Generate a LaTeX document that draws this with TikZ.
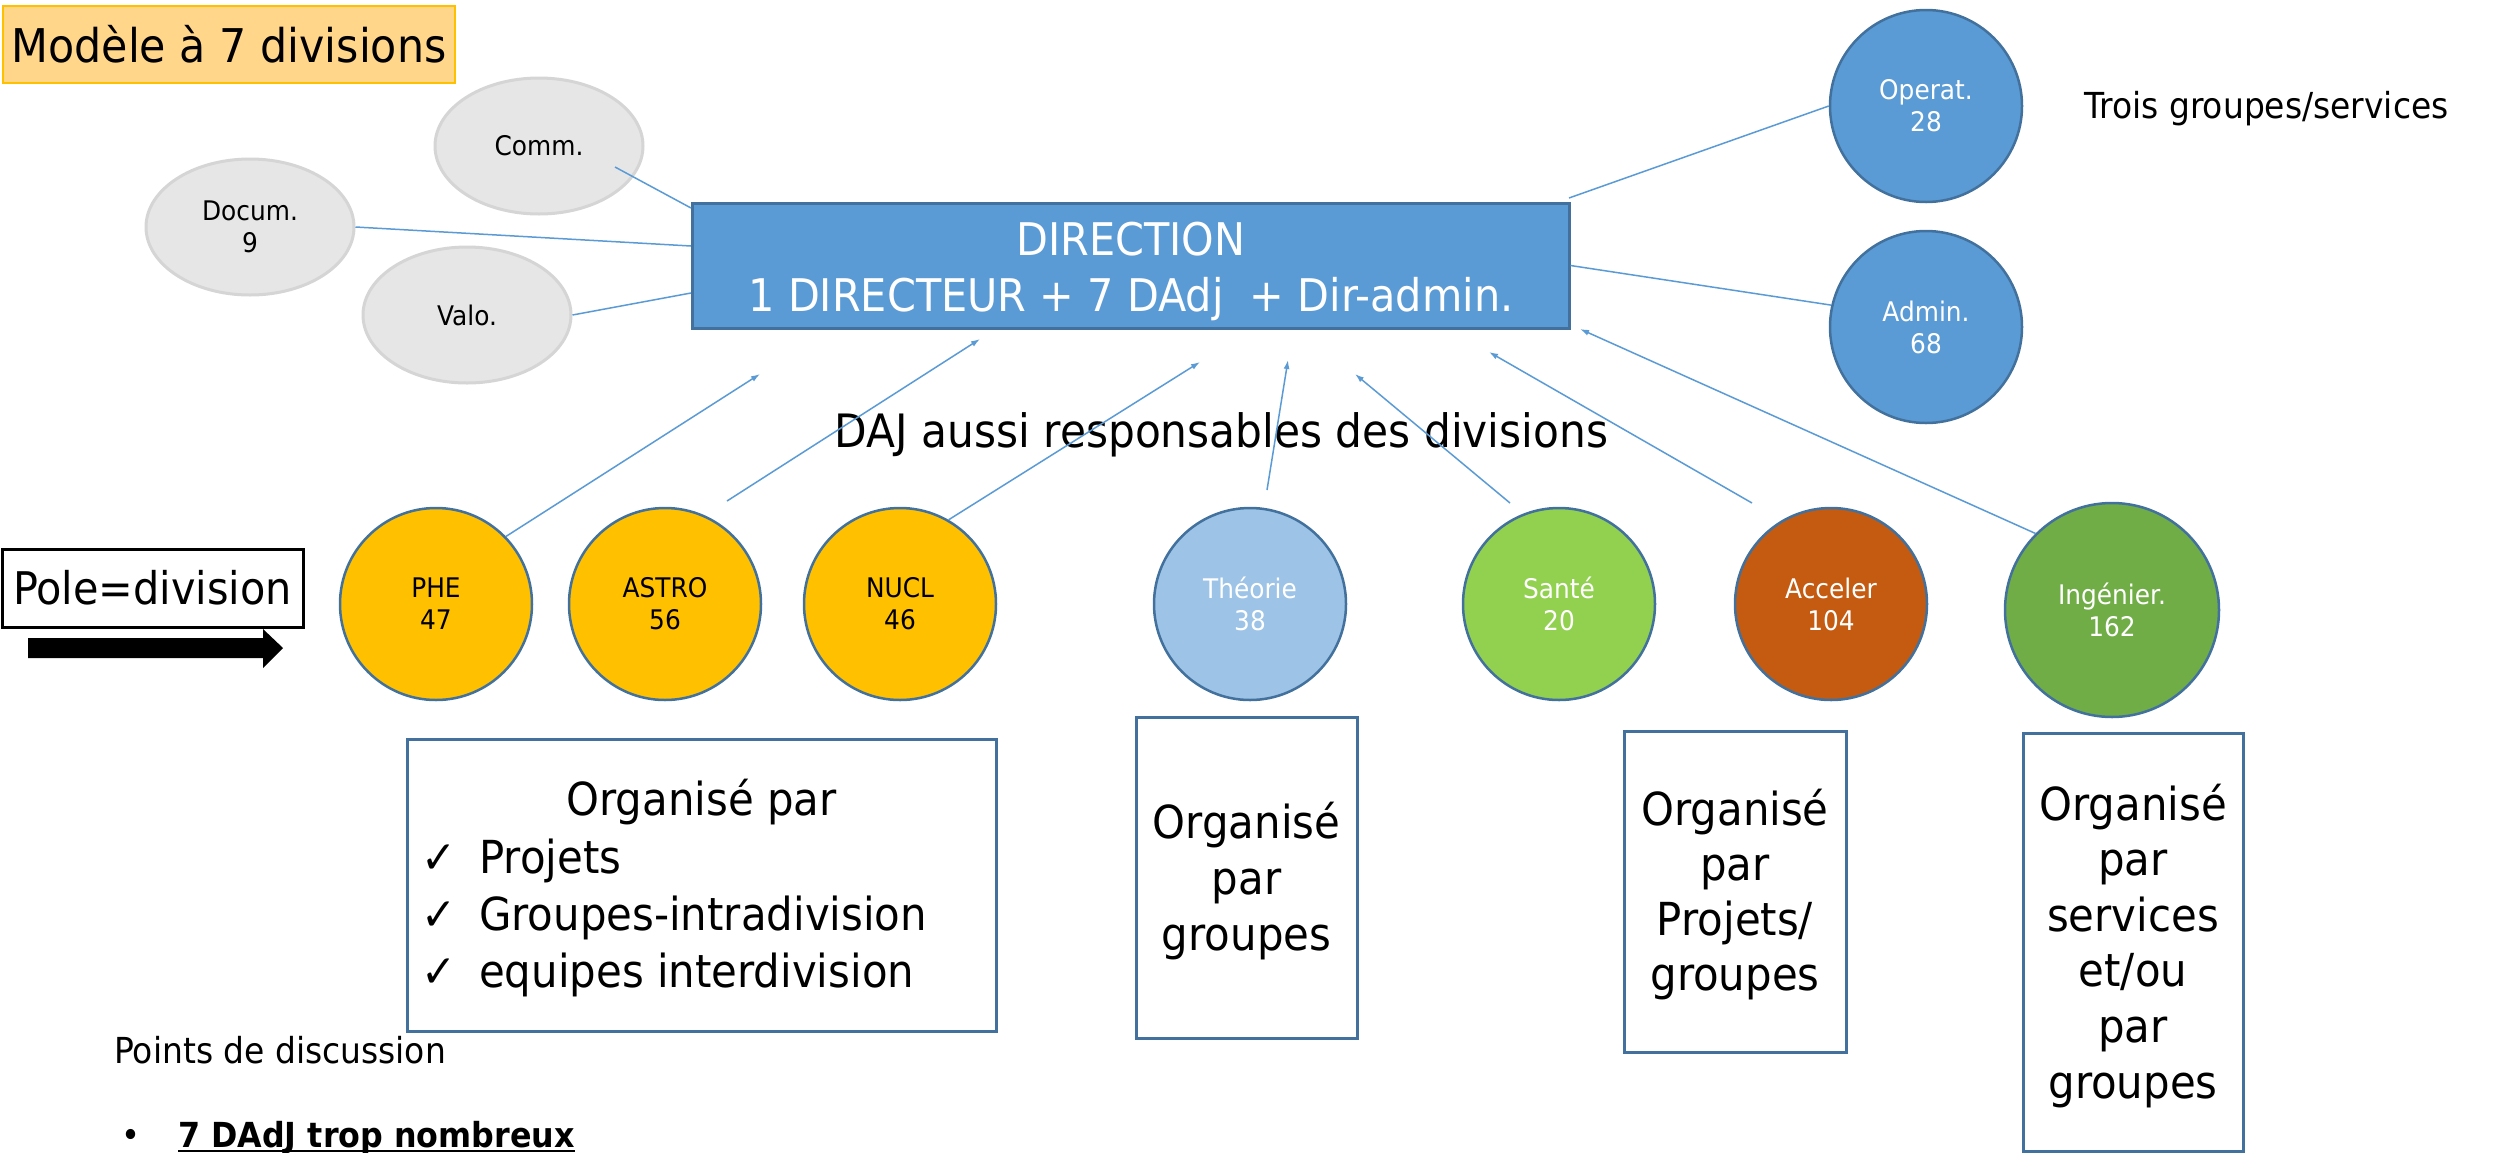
\documentclass[tikz,border=0pt]{standalone}
\usepackage{fontspec}
\setmainfont{DejaVu Sans}[FakeStretch=0.92]
\usetikzlibrary{shapes.geometric,arrows.meta}
\newcommand\myfs[2]{\fontsize{#1}{#2}\selectfont}
\definecolor{dirblue}{HTML}{5B9BD5}
\definecolor{edgeblue}{HTML}{41719C}
\definecolor{grayfill}{HTML}{E7E6E6}
\definecolor{grayedge}{HTML}{D6D5D5}
\definecolor{gold}{HTML}{FFC000}
\definecolor{titlefill}{HTML}{FFD68A}
\definecolor{theo}{HTML}{9DC3E6}
\definecolor{sante}{HTML}{92D050}
\definecolor{accel}{HTML}{C55A11}
\definecolor{ingen}{HTML}{70AD47}
\begin{document}
\begin{tikzpicture}[x=1pt,y=-1pt,
  conn/.style={dirblue, line width=1.5pt},
  arr/.style={conn, -{Latex[length=9pt,width=6pt]}},
  grayell/.style={ellipse, draw=grayedge, fill=grayfill, line width=3pt, minimum width=208pt, minimum height=136pt, inner sep=0pt, align=center, font=\myfs{27}{32}},
  div/.style={circle, draw=edgeblue, line width=2.5pt, minimum size=192pt, inner sep=0pt, align=center, font=\myfs{27}{32}},
  orgbox/.style={draw=edgeblue, line width=3pt, fill=white, inner sep=0pt},
  orgline/.style={inner sep=0pt, anchor=base, font=\myfs{45.5}{56}},
  plain/.style={inner sep=0pt},
]
\fill[white] (0,0) rectangle (2509,1152);
\useasboundingbox (0,0) rectangle (2509,1152);

% title
\node[draw=gold, fill=titlefill, line width=2pt, minimum width=452pt, minimum height=77pt, inner sep=0pt, font=\myfs{46.5}{54}] (title) at (229,44.5) {Modèle à 7 divisions};

% gray ellipses
\node[grayell] (comm) at (539,146) {Comm.};
\node[grayell] (docum) at (250,227) {Docum.\\9};
\node[grayell] (valo) at (467,315) {Valo.};

% direction
\node[draw=edgeblue, fill=dirblue, line width=3pt, minimum width=877pt, minimum height=125pt, inner sep=0pt] (dir) at (1130.5,265.5) {};
\node[plain, anchor=base, text=white, font=\myfs{45}{54}] (dirl1) at (1131,255) {DIRECTION};
\node[plain, anchor=base, text=white, font=\myfs{45}{54}] (dirl2) at (1131,311) {1 DIRECTEUR + 7 DAdj \ + Dir-admin.};

% right services
\node[div, fill=dirblue, text=white] (operat) at (1926,106) {Operat.\\28};
\node[div, fill=dirblue, text=white] (admin) at (1926,327) {Admin.\\68};
\node[plain, anchor=base west, font=\myfs{35.8}{42}] (trois) at (2084,118) {Trois groupes/services};

\node[plain, anchor=base, font=\myfs{46}{54}] (daj) at (1221.5,447) {DAJ aussi responsables des divisions};

% pole
\node[draw=black, line width=3pt, fill=white, minimum width=301pt, minimum height=78pt, inner sep=0pt, font=\myfs{45}{54}] (pole) at (152.5,588) {Pole=division};
\fill[black] (28,638) -- (263,638) -- (263,629) -- (283,648) -- (263,668) -- (263,658) -- (28,658) -- cycle;

% divisions
\node[div, fill=gold] (phe) at (436,604) {PHE\\47};
\node[div, fill=gold] (astro) at (665,604) {ASTRO\\56};
\node[div, fill=gold] (nucl) at (900,604) {NUCL\\46};
\node[div, fill=theo, text=white] (theo) at (1250,604) {Théorie\\38};
\node[div, fill=sante, text=white] (sante) at (1559,604) {Santé\\20};
\node[div, fill=accel, text=white] (accel) at (1831,604) {Acceler\\104};
\node[div, fill=ingen, text=white, minimum size=214pt] (ingen) at (2112,610) {Ingénier.\\162};

% organisation boxes
\node[orgbox, minimum width=589pt, minimum height=292pt] (b1) at (701.5,885) {};
\node[orgline] (b1t) at (701.5,815) {Organisé par};
\node[orgline, anchor=base west] (b1a) at (421,873) {\makebox[58pt][l]{✓}Projets};
\node[orgline, anchor=base west] (b1b) at (421,930) {\makebox[58pt][l]{✓}Groupes-intradivision};
\node[orgline, anchor=base west] (b1c) at (421,987) {\makebox[58pt][l]{✓}equipes interdivision};

\node[orgbox, minimum width=221pt, minimum height=321pt] (b2) at (1246.5,877.5) {};
\foreach \t [count=\i] in {Organisé,par,groupes}
  \node[orgline] (b2l\i) at (1246.5,{838+56*(\i-1)}) {\t};

\node[orgbox, minimum width=222pt, minimum height=321pt] (b3) at (1735,891.5) {};
\foreach \t [count=\i] in {Organisé,par,Projets/,groupes}
  \node[orgline] (b3l\i) at (1735,{825+55*(\i-1)}) {\t};

\node[orgbox, minimum width=220pt, minimum height=418pt] (b4) at (2133,942) {};
\foreach \t [count=\i] in {Organisé,par,services,et/ou,par,groupes}
  \node[orgline] (b4l\i) at (2133,{820+55.6*(\i-1)}) {\t};

% discussion
\node[plain, anchor=base west, font=\myfs{35.8}{42}] (points) at (114,1063) {Points de discussion};
\node[plain, anchor=base west, font=\myfs{35}{42}] (bullet) at (121,1147) {•};
\node[plain, anchor=base west, font=\myfs{34.5}{42}\bfseries] (dadj) at (178,1147) {7 DAdJ trop nombreux};
\draw[line width=2pt] ([yshift=-4pt]dadj.base west) -- ([yshift=-4pt]dadj.base east);

% connectors
\coordinate (commS) at (615,167);
\coordinate (dirW1) at (691,208);
\coordinate (dirW2) at (691,246);
\coordinate (dirW3) at (691,293);
\coordinate (dirNE) at (1569,198);
\draw[conn] (commS) -- (dirW1);
\draw[conn] (docum.east) -- (dirW2);
\draw[conn] (valo.east) -- (dirW3);
\draw[conn] (dirNE) -- (operat.west);
\draw[conn] (dir.east) -- (admin.167);

\coordinate (tip1) at (760,374);
\coordinate (tip2) at (980,339);
\coordinate (tip3) at (1200,362);
\coordinate (tip4) at (1288,360);
\coordinate (tip5) at (1355,374);
\coordinate (tip6) at (1489,352);
\coordinate (tip7) at (1580,329);
\coordinate (astroS) at (727,501);
\coordinate (theoS) at (1267,490);
\coordinate (santeS) at (1510,503);
\coordinate (accelS) at (1752,503);
\draw[arr] (phe.44) -- (tip1);
\draw[arr] (astroS) -- (tip2);
\draw[arr] (nucl.60) -- (tip3);
\draw[arr] (theoS) -- (tip4);
\draw[arr] (santeS) -- (tip5);
\draw[arr] (accelS) -- (tip6);
\draw[arr] (ingen.135) -- (tip7);
\end{tikzpicture}
\end{document}
